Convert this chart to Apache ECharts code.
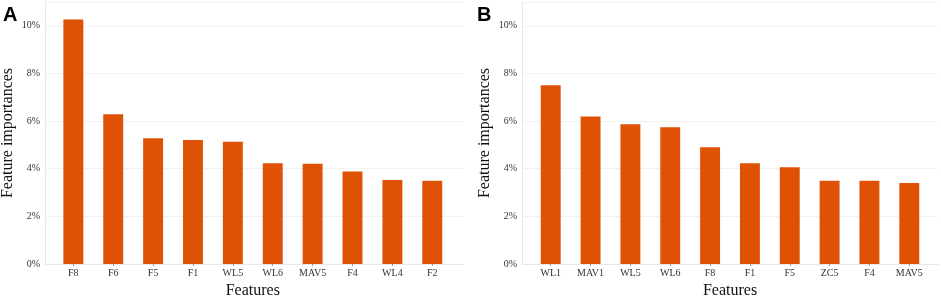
<!DOCTYPE html>
<html>
<head>
<meta charset="utf-8">
<script src="https://cdn.jsdelivr.net/npm/echarts@6/dist/echarts.min.js"></script>
<style>
  html, body { margin: 0; padding: 0; background: #fff; }
  #chart { width: 941px; height: 296px; }
</style>
</head>
<body>
<div id="chart"></div>
<script>
// panel A
const catsA = ['F8', 'F6', 'F5', 'F1', 'WL5', 'WL6', 'MAV5', 'F4', 'WL4', 'F2'];
const valsA = [10.27, 6.29, 5.28, 5.21, 5.13, 4.23, 4.21, 3.88, 3.53, 3.50];
// panel B
const catsB = ['WL1', 'MAV1', 'WL5', 'WL6', 'F8', 'F1', 'F5', 'ZC5', 'F4', 'MAV5'];
const valsB = [7.51, 6.19, 5.87, 5.74, 4.90, 4.23, 4.06, 3.50, 3.50, 3.40];

const yMax = 11;
const yStep = 2;
const barColor = '#DF5206';
const serif = '"Liberation Serif", "DejaVu Serif", serif';
const sans = '"Liberation Sans", Arial, sans-serif';
const lineGray = '#E8E8E8';

const chart = echarts.init(document.getElementById('chart'));

// overlay grids carry axis lines, grid lines and y labels (ggplot-style padding)
function frameAxes(gi) {
    return {
        x: {
            type: 'value', gridIndex: gi, min: 0, max: 1,
            axisLine: { show: true, lineStyle: { color: lineGray, width: 1 } },
            axisTick: { show: false }, axisLabel: { show: false }, splitLine: { show: false }
        },
        y: {
            type: 'value', gridIndex: gi, min: 0, max: yMax, interval: yStep,
            name: 'Feature importances', nameLocation: 'middle', nameGap: 29,
            nameTextStyle: { fontFamily: serif, fontSize: 16, color: '#111' },
            axisLine: { show: true, lineStyle: { color: lineGray, width: 1 } },
            axisTick: { show: false },
            axisLabel: {
                margin: 5, fontFamily: serif, fontSize: 10, color: '#333',
                formatter: v => (v % 2 === 0 && v <= 10) ? v + '%' : ''
            },
            splitLine: { show: true, lineStyle: { color: '#F1F1F1', width: 1 } }
        }
    };
}

function barAxes(gi, cats) {
    return {
        x: {
            type: 'category', gridIndex: gi, data: cats,
            name: 'Features', nameLocation: 'middle', nameGap: 16,
            nameTextStyle: { fontFamily: serif, fontSize: 16, color: '#111' },
            axisLine: { show: false },
            axisTick: { show: true, alignWithLabel: true, length: 2, lineStyle: { color: '#999' } },
            axisLabel: { margin: 4, fontFamily: serif, fontSize: 10, color: '#333' }
        },
        y: {
            type: 'value', gridIndex: gi, min: 0, max: yMax,
            axisLine: { show: false }, axisTick: { show: false },
            axisLabel: { show: false }, splitLine: { show: false }
        }
    };
}

const fA = frameAxes(0), bA = barAxes(1, catsA);
const fB = frameAxes(2), bB = barAxes(3, catsB);

const gridBase = { top: 2, bottom: 32, containLabel: false, outerBoundsMode: 'none' };

const option = {
    animation: false,
    textStyle: { fontFamily: serif },
    title: [
        { text: 'A', left: 3, top: 5, padding: 0, textStyle: { fontFamily: sans, fontWeight: 'bold', fontSize: 20, color: '#000' } },
        { text: 'B', left: 477, top: 5, padding: 0, textStyle: { fontFamily: sans, fontWeight: 'bold', fontSize: 20, color: '#000' } }
    ],
    grid: [
        Object.assign({ left: 45, right: 478 }, gridBase),
        Object.assign({ left: 53.4, right: 488.8 }, gridBase),
        Object.assign({ left: 522, right: 3 }, gridBase),
        Object.assign({ left: 530.8, right: 11.8 }, gridBase)
    ],
    xAxis: [fA.x, bA.x, fB.x, bB.x],
    yAxis: [fA.y, bA.y, fB.y, bB.y],
    series: [
        {
            type: 'bar', xAxisIndex: 1, yAxisIndex: 1, data: valsA,
            barWidth: '50%', itemStyle: { color: barColor }
        },
        {
            type: 'bar', xAxisIndex: 3, yAxisIndex: 3, data: valsB,
            barWidth: '50%', itemStyle: { color: barColor }
        }
    ]
};

chart.setOption(option);
</script>
</body>
</html>
